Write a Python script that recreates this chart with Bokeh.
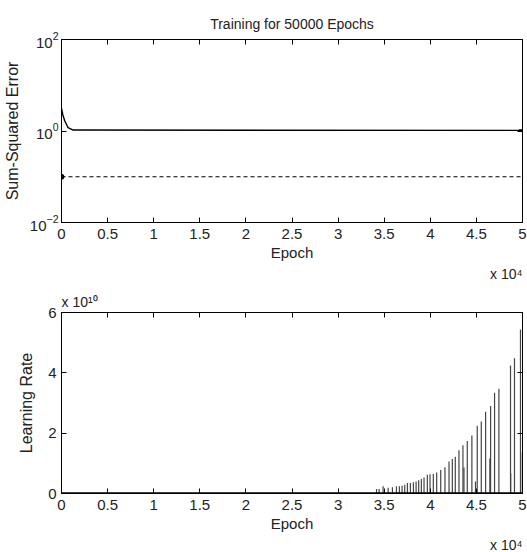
from bokeh.plotting import figure
from bokeh.layouts import column
from bokeh.models import (Range1d, FixedTicker, CustomJSTickFormatter, LogAxis,
                          LinearAxis, Title, LogTickFormatter)
from bokeh.embed import file_html
from bokeh.resources import INLINE

# ---------------- data ----------------
sse_epochs = [0, 150, 360, 720, 1260, 50000]
sse = [3.1, 2.24, 1.65, 1.18, 1.05, 1.03]
goal_epochs = [0, 50000]
goal = [0.1, 0.1]

lr_epochs = [34170, 34450, 34880, 35430, 35890, 36330, 36650, 36940, 37230, 37520,
             37840, 38170, 38460, 38740, 39030, 39320, 39680, 39970, 40330, 40690,
             41130, 41590, 42030, 42390, 42710, 43110, 43540, 43650, 44010, 44510,
             44900, 45090, 45530, 46000, 46460, 46540, 46970, 47440, 48700, 48720,
             49130, 49780, 49800]
lr = [0.15e10, 0.15e10, 0.24e10, 0.19e10, 0.21e10, 0.24e10, 0.24e10, 0.26e10, 0.29e10, 0.35e10,
      0.35e10, 0.37e10, 0.40e10, 0.44e10, 0.48e10, 0.53e10, 0.62e10, 0.64e10, 0.65e10, 0.70e10,
      0.78e10, 0.87e10, 1.06e10, 1.14e10, 1.22e10, 1.43e10, 1.60e10, 0.86e10, 1.74e10, 1.92e10,
      0.40e10, 2.25e10, 2.39e10, 2.71e10, 1.16e10, 2.90e10, 3.34e10, 3.47e10, 4.24e10, 0.67e10,
      4.48e10, 5.44e10, 1.36e10]
lr_base_epochs = [0, 50000]
lr_base = [0, 0]

epoch_ticks = [0, 5000, 10000, 15000, 20000, 25000, 30000, 35000, 40000, 45000, 50000]
sse_ticks = [0.01, 1, 100]
lr_ticks = [0, 2e10, 4e10, 6e10]

TITLE = "Training for 50000 Epochs"
XLABEL = "Epoch"
SSE_LABEL = "Sum-Squared Error"
LR_LABEL = "Learning Rate"
X_SCALE = "x 10\u2074"
LR_SCALE = "x 10\u00b9\u2070"

# ---------------- style ----------------
FONT = "Liberation Sans"
TXT = "#222222"

epoch_fmt = CustomJSTickFormatter(code="return (tick/1e4).toString();")
lr_fmt = CustomJSTickFormatter(code="return (tick/1e10).toString();")


def style_axis(ax, labels=True):
    ax.major_tick_in = 5
    ax.major_tick_out = 0
    ax.minor_tick_line_color = None
    ax.major_tick_line_color = "black"
    ax.axis_line_color = "black"
    ax.major_label_text_font = FONT
    ax.major_label_text_font_size = "15px"
    ax.major_label_text_color = TXT
    ax.axis_label_text_font = FONT
    ax.axis_label_text_font_size = "15px"
    ax.axis_label_text_font_style = "normal"
    ax.axis_label_text_color = TXT
    if not labels:
        ax.formatter = CustomJSTickFormatter(code="return '';")
        ax.major_label_standoff = 0
        ax.axis_line_color = None


def scale_title(text, align, standoff):
    return Title(text=text, align=align, standoff=standoff, text_font=FONT,
                 text_font_size="14px", text_font_style="normal", text_color=TXT)


# ---------------- top plot ----------------
p1 = figure(width=527, height=281, y_axis_type="log",
            x_range=Range1d(0, 50000), y_range=Range1d(1e-2, 1e2),
            output_backend="svg", toolbar_location=None,
            min_border_left=60, min_border_right=5, min_border_top=39, min_border_bottom=59)
p1.grid.visible = False
p1.outline_line_color = "black"
p1.outline_line_width = 1

p1.title.text = TITLE
p1.title.align = "center"
p1.title.text_font = FONT
p1.title.text_font_size = "14px"
p1.title.text_font_style = "normal"
p1.title.text_color = TXT
p1.title.standoff = 16

p1.xaxis.ticker = FixedTicker(ticks=epoch_ticks)
p1.xaxis.formatter = epoch_fmt
p1.xaxis.axis_label = XLABEL
p1.yaxis.ticker = FixedTicker(ticks=sse_ticks)
p1.yaxis.formatter = LogTickFormatter()
p1.yaxis.axis_label = SSE_LABEL
for ax in p1.xaxis + p1.yaxis:
    style_axis(ax)
p1.yaxis.axis_label_text_font_size = "16px"
p1.xaxis.major_label_standoff = 6
p1.xaxis.axis_label_standoff = 2
p1.yaxis.major_label_standoff = 3
p1.yaxis.axis_label_standoff = 6

top_ax = LinearAxis(ticker=FixedTicker(ticks=epoch_ticks))
style_axis(top_ax, labels=False)
p1.add_layout(top_ax, "above")
right_ax = LogAxis(ticker=FixedTicker(ticks=sse_ticks))
style_axis(right_ax, labels=False)
p1.add_layout(right_ax, "right")
p1.add_layout(scale_title(X_SCALE, "right", 0), "below")

p1.line(sse_epochs, sse, line_color="black", line_width=1.4)
p1.line(goal_epochs, goal, line_color="black", line_width=1.1, line_dash="4 3")
p1.scatter(goal_epochs[:1], goal[:1], marker="circle", size=5, color="black")
p1.scatter(sse_epochs[-1:], sse[-1:], marker="dash", size=7, line_width=2.5, color="black")

# ---------------- bottom plot ----------------
p2 = figure(width=527, height=271,
            x_range=Range1d(0, 50000), y_range=Range1d(0, 6e10),
            output_backend="svg", toolbar_location=None,
            min_border_left=60, min_border_right=5, min_border_top=31, min_border_bottom=56)
p2.grid.visible = False
p2.outline_line_color = "black"
p2.outline_line_width = 1

p2.xaxis.ticker = FixedTicker(ticks=epoch_ticks)
p2.xaxis.formatter = epoch_fmt
p2.xaxis.axis_label = XLABEL
p2.yaxis.ticker = FixedTicker(ticks=lr_ticks)
p2.yaxis.formatter = lr_fmt
p2.yaxis.axis_label = LR_LABEL
for ax in p2.xaxis + p2.yaxis:
    style_axis(ax)
p2.yaxis.axis_label_text_font_size = "16px"
p2.xaxis.major_label_standoff = 6
p2.xaxis.axis_label_standoff = 2
p2.yaxis.major_label_standoff = 5
p2.yaxis.axis_label_standoff = 10

top_ax2 = LinearAxis(ticker=FixedTicker(ticks=epoch_ticks))
style_axis(top_ax2, labels=False)
p2.add_layout(top_ax2, "above")
right_ax2 = LinearAxis(ticker=FixedTicker(ticks=lr_ticks))
style_axis(right_ax2, labels=False)
p2.add_layout(right_ax2, "right")
p2.add_layout(scale_title(LR_SCALE, "left", 5), "above")
p2.add_layout(scale_title(X_SCALE, "right", 0), "below")

p2.segment(x0=lr_epochs, y0=[0] * len(lr), x1=lr_epochs, y1=lr,
           line_color="#444444", line_width=1.2)
p2.line(lr_base_epochs, lr_base, line_color="black", line_width=2.5)

layout = column(p1, p2, spacing=0)
open("out.html", "w").write(file_html(layout, INLINE))
